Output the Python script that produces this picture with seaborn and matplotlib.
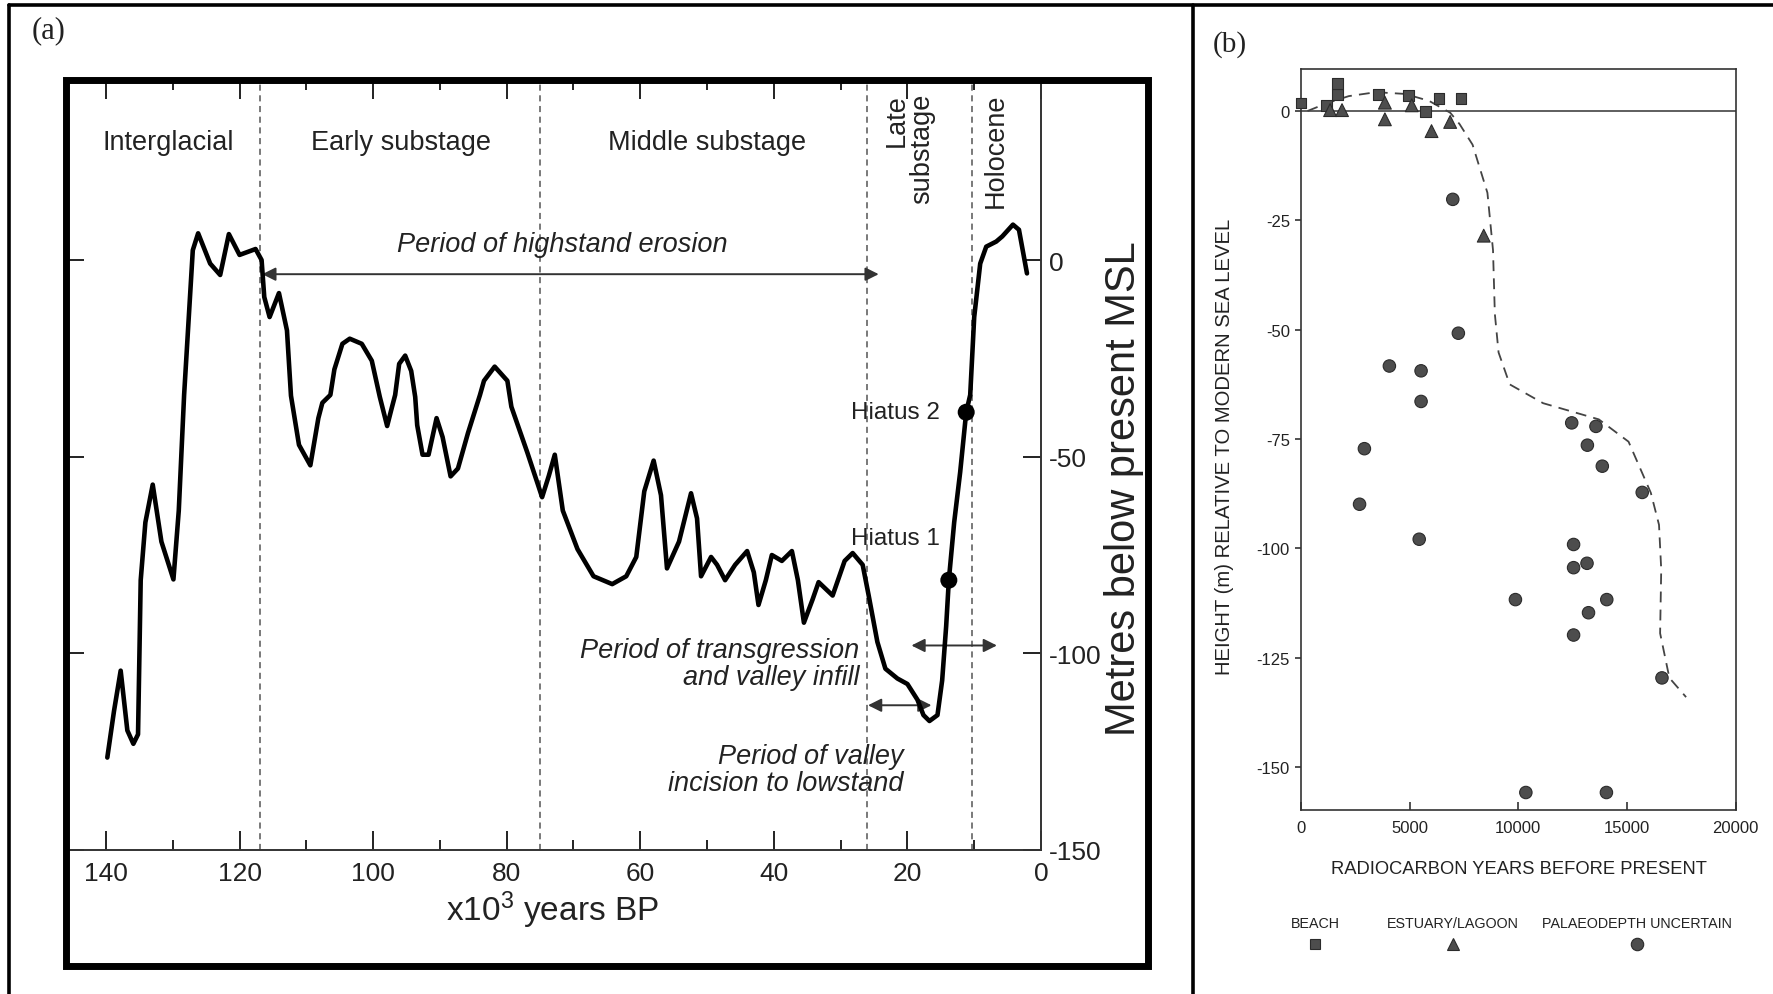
import matplotlib
matplotlib.use("Agg")
import matplotlib.pyplot as plt
import seaborn as sns
import pandas as pd
from matplotlib.patches import Rectangle
from matplotlib.lines import Line2D
from matplotlib.ticker import MultipleLocator

# Estilo geral
sns.set_theme(style="white")
plt.rcParams["font.family"] = ["Liberation Sans", "DejaVu Sans"]
plt.rcParams["axes.unicode_minus"] = False
plt.rcParams["mathtext.default"] = "regular"

SERIFA = ["Liberation Serif", "DejaVu Serif"]
TINTA = "#222222"

# Painel (a): curva do nivel do mar (mil anos BP x metros)
idade_ka = [139.8, 138.8, 137.8, 136.8, 135.9, 135.2, 134.8, 134.1, 133.0, 131.7,
            129.9, 129.1, 128.3, 127.0, 126.2, 124.4, 122.9, 121.6, 120.0, 117.6,
            116.7, 116.3, 115.5, 114.1, 112.9, 112.3, 111.1, 109.4, 108.2, 107.6,
            106.4, 105.8, 104.6, 103.5, 101.7, 100.2, 99.0, 97.9, 97.3, 96.7,
            96.1, 95.2, 94.3, 93.7, 93.4, 92.6, 91.7, 90.5, 89.6, 88.4,
            87.3, 85.8, 84.0, 83.4, 81.8, 79.9, 79.3, 76.9, 74.7, 73.7,
            72.8, 71.6, 69.4, 67.0, 64.2, 62.1, 60.6, 59.4, 58.0, 56.9,
            56.0, 54.2, 52.4, 51.5, 50.9, 49.4, 48.5, 47.3, 45.8, 44.0,
            43.0, 42.3, 41.2, 40.3, 38.8, 37.3, 36.4, 35.5, 34.2, 33.3,
            31.2, 29.4, 28.2, 26.7, 25.8, 24.5, 23.3, 21.5, 20.0, 18.5,
            17.6, 16.7, 15.5, 14.8, 14.2, 13.8, 13.0, 12.1, 11.2, 10.6,
            10.0, 9.1, 8.2, 6.7, 5.8, 4.2, 3.3, 2.1]
nivel_m = [-126.5, -114.7, -104.4, -119.6, -123.0, -120.6, -81.4, -66.7, -57.1, -71.6,
           -81.2, -63.7, -34.3, 2.5, 6.8, -0.9, -3.8, 6.6, 1.3, 2.8,
           0.0, -9.4, -14.5, -8.4, -17.9, -34.5, -47.0, -52.2, -40.2, -36.3,
           -34.3, -27.8, -21.3, -20.0, -21.3, -25.6, -34.8, -42.2, -38.2, -34.3,
           -26.4, -24.3, -28.2, -34.8, -42.0, -49.5, -49.5, -40.2, -45.0, -55.0,
           -53.0, -44.0, -34.3, -30.7, -27.1, -30.7, -37.3, -49.0, -60.3, -54.9,
           -49.5, -63.7, -73.5, -80.4, -82.4, -80.4, -75.5, -58.8, -51.0, -59.8,
           -78.4, -71.6, -59.3, -65.7, -80.4, -75.5, -77.5, -81.4, -77.5, -74.0,
           -79.4, -87.7, -81.4, -75.0, -76.5, -74.0, -81.4, -92.2, -86.3, -81.9,
           -85.3, -76.5, -74.5, -77.5, -85.3, -97.1, -103.9, -106.4, -107.8, -111.8,
           -115.7, -117.2, -115.7, -106.9, -93.1, -81.4, -66.7, -53.9, -38.7, -34.3,
           -14.5, -0.9, 3.4, 4.7, 6.0, 9.0, 7.7, -3.4]

hiato_ka = [13.8, 11.2]
hiato_m = [-81.4, -38.7]
hiato_rotulo = ["Hiatus 1", "Hiatus 2"]

limites_ka = [117, 75, 26, 10.4]
fases = ["Interglacial", "Early substage", "Middle substage"]
fases_ka = [130.7, 95.8, 50.0]

ticks_x_a = [140, 120, 100, 80, 60, 40, 20, 0]
ticks_y_a = [0, -50, -100, -150]

# Painel (b): datas de radiocarbono
praia_anos = [0, 1167, 1665, 1665, 3553, 4943, 5716, 6351, 7364]
praia_m = [1.8, 1.2, 3.8, 6.2, 3.7, 3.6, -0.2, 2.8, 2.8]
estuario_anos = [1339, 1888, 3862, 3862, 5098, 6008, 6866, 8411]
estuario_m = [0.2, 0.2, 1.9, -1.9, 1.3, -4.6, -2.5, -28.5]
incerto_anos = [6986, 7243, 4068, 5527, 5527, 2918, 12461, 13577, 13182, 13869,
                15706, 2695, 5441, 12547, 12547, 13165, 9870, 14075, 13234, 12547,
                16615, 10350, 14058]
incerto_m = [-20.2, -50.8, -58.3, -59.4, -66.4, -77.2, -71.3, -72.1, -76.4, -81.2,
             -87.2, -89.9, -97.9, -99.1, -104.4, -103.4, -111.7, -111.7, -114.7, -119.8,
             -129.6, -155.8, -155.8]

curva_b_anos = [300, 1200, 2200, 3450, 4800, 5900, 6870, 7300, 7897, 8581, 8838,
                8923, 9094, 9607, 11145, 13709, 15077, 16103, 16479, 16581, 16530,
                16957, 17726]
curva_b_m = [0.0, 1.8, 3.4, 4.3, 3.9, 2.3, -0.4, -3.0, -7.7, -18.7, -31.8,
             -46.4, -55.2, -62.5, -66.8, -70.5, -75.6, -87.3, -94.6, -104.8, -119.4,
             -129.6, -134.0]

categorias_b = ["BEACH", "ESTUARY/LAGOON", "PALAEODEPTH UNCERTAIN"]
marcadores_b = {"BEACH": "s", "ESTUARY/LAGOON": "^", "PALAEODEPTH UNCERTAIN": "o"}
tamanhos_b = {"BEACH": 60, "ESTUARY/LAGOON": 85, "PALAEODEPTH UNCERTAIN": 80}

ticks_x_b = [0, 5000, 10000, 15000, 20000]
ticks_y_b = [0, -25, -50, -75, -100, -125, -150]

W, H = 1773, 995


def fx(px):
    return px / W


def fy(py):
    return 1 - py / H


fig = plt.figure(figsize=(W / 100, H / 100), dpi=100)
fig.patch.set_facecolor("white")

# moldura externa
for xs, ys in [([fx(9), fx(9)], [0, fy(6)]),
               ([fx(9), 1], [fy(6), fy(6)]),
               ([fx(1193), fx(1193)], [0, fy(6)])]:
    fig.add_artist(Line2D(xs, ys, transform=fig.transFigure, color="black", lw=2.6))

fig.text(fx(32), fy(31), "(a)", family=SERIFA, fontsize=22, ha="left", va="center", color=TINTA)
fig.text(fx(1213), fy(45), "(b)", family=SERIFA, fontsize=21, ha="left", va="center", color=TINTA)

# ---------------- painel (a)
ax = fig.add_axes([fx(65.5), fy(851), fx(1041) - fx(65.5), fy(80.5) - fy(851)])
ax.set_facecolor("white")

sns.lineplot(x=idade_ka, y=nivel_m, ax=ax, color="black", lw=3.3, sort=False,
             estimator=None, zorder=4)
ax.lines[-1].set_solid_joinstyle("round")
ax.lines[-1].set_solid_capstyle("round")
sns.scatterplot(x=hiato_ka, y=hiato_m, ax=ax, s=150, color="black", edgecolor="none",
                zorder=5, legend=False)

for lim in limites_ka:
    ax.axvline(lim, color="#555555", lw=1.1, ls=(0, (4, 3)), zorder=1)

ax.set_xlim(146.06, 0)
ax.set_ylim(-150, 45.9)
ax.set_xticks(ticks_x_a)
ax.set_xticklabels([str(t) for t in ticks_x_a])
ax.xaxis.set_minor_locator(MultipleLocator(10))
ax.set_yticks(ticks_y_a)
ax.set_yticklabels([str(t) for t in ticks_y_a])
ax.tick_params(axis="x", which="major", direction="in", length=14, width=1.4,
               top=True, bottom=True, labelsize=19, pad=8, colors=TINTA)
ax.tick_params(axis="x", which="minor", direction="in", length=7, width=1.4,
               top=True, bottom=True, colors=TINTA)
ax.tick_params(axis="y", direction="in", length=13, width=1.4, left=True, right=True,
               labelleft=False, labelright=True, labelsize=19, pad=6, colors=TINTA)
for lado in ["left", "top"]:
    ax.spines[lado].set_visible(False)
for lado in ["bottom", "right"]:
    ax.spines[lado].set_color("#333333")
    ax.spines[lado].set_linewidth(1.4)

for nome, xk in zip(fases, fases_ka):
    ax.text(xk, 30.0, nome, ha="center", va="center", fontsize=19.5, color=TINTA)
ax.text(19.7, 42.5, "Late\nsubstage", rotation=90, ha="center", va="top",
        multialignment="right", fontsize=19.5, linespacing=0.95, color=TINTA)
ax.text(6.8, 42.5, "Holocene", rotation=90, ha="center", va="top", fontsize=19.5, color=TINTA)

ax.text(71.6, 4.0, "Period of highstand erosion", style="italic", ha="center",
        va="center", fontsize=19.5, color=TINTA)
ax.annotate("", xy=(24.3, -3.6), xytext=(116.6, -3.6),
            arrowprops=dict(arrowstyle="<|-|>", color="#333333", lw=1.4,
                            mutation_scale=20, shrinkA=0, shrinkB=0))
ax.text(27.2, -102.7, "Period of transgression\nand valley infill", style="italic",
        ha="right", va="center", multialignment="right", fontsize=19.5,
        linespacing=1.05, color=TINTA)
ax.annotate("", xy=(6.6, -98), xytext=(19.4, -98),
            arrowprops=dict(arrowstyle="<|-|>", color="#333333", lw=1.4,
                            mutation_scale=20, shrinkA=0, shrinkB=0))
ax.text(20.6, -129.5, "Period of valley\nincision to lowstand", style="italic",
        ha="right", va="center", multialignment="right", fontsize=19.5,
        linespacing=1.05, color=TINTA)
ax.annotate("", xy=(16.4, -113.2), xytext=(25.9, -113.2),
            arrowprops=dict(arrowstyle="<|-|>", color="#333333", lw=1.4,
                            mutation_scale=20, shrinkA=0, shrinkB=0))
for xk, yk, rot in zip(hiato_ka, hiato_m, hiato_rotulo):
    ydes = yk + 10.8 if rot == "Hiatus 1" else yk
    ax.text(15.2, ydes, rot, ha="right", va="center", fontsize=17.5, color=TINTA)

fig.text(fx(552), fy(910), r"x10$^3$ years BP", ha="center", va="center",
         fontsize=24, color=TINTA)
fig.text(fx(1124), fy(489), "Metres below present MSL", rotation=90, ha="center",
         va="center", fontsize=30, color=TINTA)

fig.add_artist(Rectangle((fx(65.5), fy(966.5)), fx(1147.5) - fx(65.5),
                         fy(80.5) - fy(966.5), transform=fig.transFigure,
                         fill=False, lw=5, edgecolor="black", zorder=10))

# ---------------- painel (b)
axb = fig.add_axes([fx(1301), fy(811), fx(1735.5) - fx(1301), fy(70) - fy(811)])
axb.set_facecolor("white")

df_b = pd.DataFrame({
    "anos": praia_anos + estuario_anos + incerto_anos,
    "altura": praia_m + estuario_m + incerto_m,
    "ambiente": (["BEACH"] * len(praia_anos) + ["ESTUARY/LAGOON"] * len(estuario_anos)
                 + ["PALAEODEPTH UNCERTAIN"] * len(incerto_anos)),
})

axb.axhline(0, color="#333333", lw=1.1, zorder=2)
sns.lineplot(x=curva_b_anos, y=curva_b_m, ax=axb, sort=False, estimator=None,
             color="#444444", lw=1.3, linestyle=(0, (6, 4)), zorder=2)
sns.scatterplot(data=df_b, x="anos", y="altura", hue="ambiente", style="ambiente",
                size="ambiente", markers=marcadores_b, sizes=tamanhos_b,
                palette={c: "#4d4d4d" for c in categorias_b}, edgecolor="#2b2b2b",
                linewidth=0.8, legend=False, ax=axb, zorder=3, clip_on=False)

axb.set_xlim(0, 20000)
axb.set_ylim(-159.8, 9.6)
axb.set_xticks(ticks_x_b)
axb.set_xticklabels([str(t) for t in ticks_x_b])
axb.set_yticks(ticks_y_b)
axb.set_yticklabels([str(t) for t in ticks_y_b])
axb.tick_params(axis="x", direction="in", length=6, width=1.1, bottom=True,
                labelsize=12, pad=7, colors=TINTA)
axb.tick_params(axis="y", direction="out", length=4, width=1.1, left=True,
                labelsize=12, pad=4, colors=TINTA)
for esp in axb.spines.values():
    esp.set_color("#333333")
    esp.set_linewidth(1.2)
axb.set_xlabel("")
axb.set_ylabel("")

fig.text(fx(1519), fy(870), "RADIOCARBON YEARS BEFORE PRESENT", ha="center",
         va="center", fontsize=13.2, color=TINTA)
fig.text(fx(1224), fy(447), "HEIGHT (m) RELATIVE TO MODERN SEA LEVEL", rotation=90,
         ha="center", va="center", fontsize=14.6, color=TINTA)

# legenda: rotulo em cima, simbolo embaixo
for cat, cx in zip(categorias_b, [1315, 1453, 1637]):
    fig.text(fx(cx), fy(924), cat, ha="center", va="center", fontsize=10.3,
             color=TINTA)
    fig.add_artist(Line2D([fx(cx)], [fy(945)], transform=fig.transFigure,
                          marker=marcadores_b[cat], ms=tamanhos_b[cat] ** 0.5,
                          color="#4d4d4d", mec="#2b2b2b", mew=0.8, ls="none"))

fig.savefig("out.png", dpi=100, facecolor="white")
